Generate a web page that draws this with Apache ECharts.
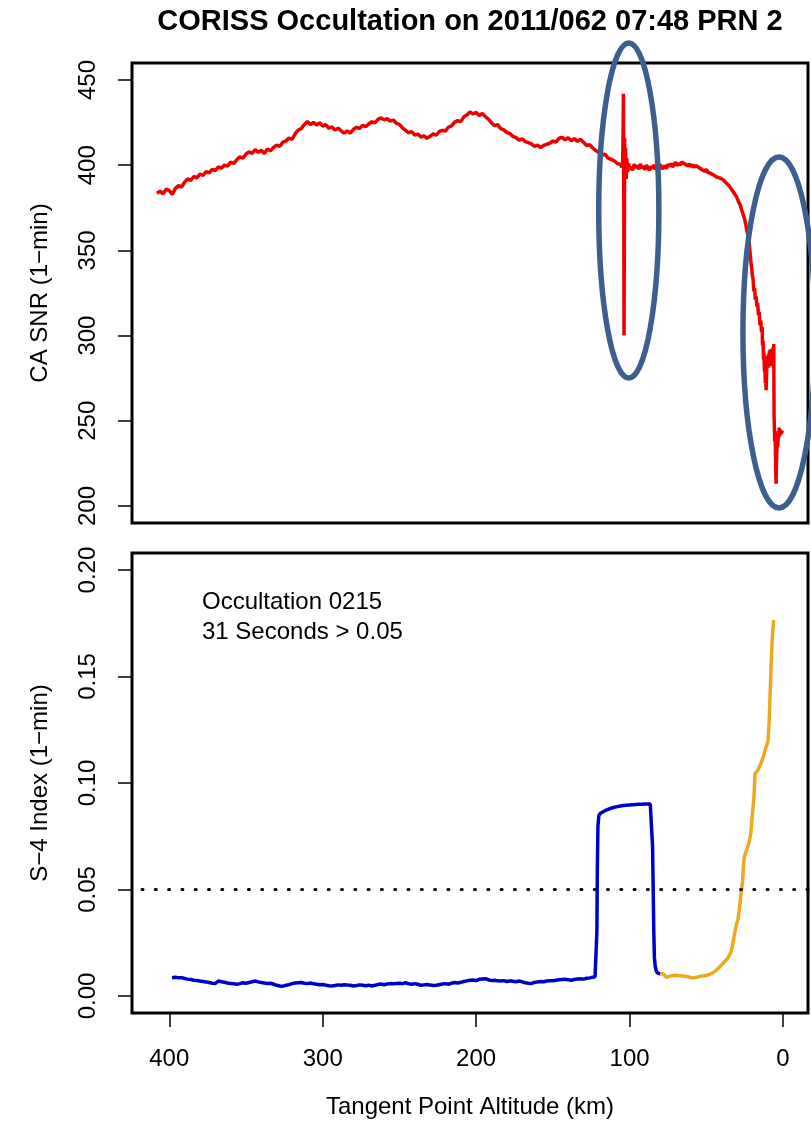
<!DOCTYPE html>
<html>
<head>
<meta charset="utf-8">
<script src="https://cdn.jsdelivr.net/npm/echarts@6/dist/echarts.min.js"></script>
<style>
  html, body { margin: 0; background: #fff; }
  #chart { width: 811px; height: 1131px; }
</style>
</head>
<body>
<div id="chart"></div>
<script>
// CA SNR trace: [tangent point altitude (km), SNR]
const snrTrace = [
  [408,383.5],[406,384.8],[404,383.2],[402,386.0],[400,385.1],[398,382.9],[396,386.4],[394,388.0],
  [392,387.2],[390,390.1],[388,392.0],[386,391.0],[384,393.4],[382,392.6],[380,394.8],[378,394.1],
  [376,396.2],[374,395.5],[372,397.6],[370,396.9],[368,399.0],[366,398.2],[364,400.1],[362,399.5],
  [360,401.8],[358,401.0],[356,403.2],[354,404.9],[352,404.1],[350,406.6],[348,407.8],[346,406.9],
  [344,409.2],[342,407.5],[340,408.8],[338,406.9],[336,409.6],[334,408.4],[332,410.5],[330,411.8],
  [328,411.0],[326,413.5],[324,414.2],[322,416.0],[320,415.1],[318,418.4],[316,420.6],[314,421.5],
  [312,423.8],[310,425.6],[308,423.9],[306,425.1],[304,423.6],[302,424.9],[300,423.0],[298,423.8],
  [296,421.7],[294,422.5],[292,420.6],[290,421.8],[288,420.2],[286,418.8],[284,420.1],[282,418.9],
  [280,421.0],[278,422.3],[276,421.5],[274,423.4],[272,422.6],[270,424.2],[268,425.5],[266,424.8],
  [264,426.9],[262,427.8],[260,426.6],[258,427.4],[256,425.9],[254,426.5],[252,424.6],[250,424.0],
  [248,421.9],[246,420.5],[244,419.0],[242,419.8],[240,417.6],[238,418.3],[236,416.5],[234,417.2],
  [232,415.8],[230,417.0],[228,418.4],[226,417.6],[224,419.8],[222,420.5],[220,420.0],[218,422.4],
  [216,423.1],[214,425.3],[212,426.2],[210,425.6],[208,428.4],[206,429.5],[204,431.2],[202,430.1],
  [200,431.0],[198,429.2],[196,430.4],[194,428.6],[192,427.0],[190,424.9],[188,423.2],[186,423.8],
  [184,421.5],[182,420.8],[180,419.3],[178,418.6],[176,416.9],[174,416.2],[172,414.8],[170,415.5],
  [168,413.9],[166,413.2],[164,412.5],[162,411.0],[160,411.8],[158,410.4],[156,411.6],[154,412.3],
  [152,412.9],[150,414.2],[148,413.5],[146,415.8],[144,416.3],[142,414.9],[140,416.1],[138,414.4],
  [136,415.6],[134,414.0],[132,415.2],[130,413.5],[128,411.6],[126,412.0],[124,410.1],[122,408.6],
  [120,407.4],[118,405.8],[116,406.5],[114,404.2],[112,403.4],[110,402.6],[108,401.0],[106,400.5],
  [105,398.8],[104.5,401.5],[104.2,420],[104,442],[103.8,395],[103.6,300],[103.4,360],[103.2,416],
  [103,395],[102.6,410],[102.2,392],[101.8,404],[101.2,396],[100.6,401],[100,397.5],
  [99,399.2],[98,397.0],[97,400.6],[96,398.4],[95,399.9],[94,397.6],[93,400.8],[92,398.2],
  [91,399.5],[90,397.4],[89,400.1],[88,398.6],[87,396.9],[86,399.4],[85,398.0],[84,400.2],
  [83,397.5],[82,399.0],[81,398.1],[80,400.3],[79,397.8],[78,398.6],[77,399.8],[76,398.0],
  [75,400.5],[74,399.2],[73,401.0],[72,398.9],[71,400.4],[70,401.8],[69,399.6],[68,401.2],
  [67,400.0],[66,401.9],[65,402.3],[64,400.7],[63,401.6],[62,399.5],[61,400.8],[60,399.2],
  [59,400.4],[58,398.6],[57,399.9],[56,400.6],[55,398.8],[54,399.4],[53,397.5],[52,398.2],
  [51,396.4],[50,397.6],[49,395.8],[48,396.9],[47,395.2],[46,396.0],[45,394.1],[44,394.8],
  [43,393.0],[42,393.9],[41,392.4],[40,393.1],[39,391.5],[38,392.0],[37,389.6],[36,390.2],
  [35,387.8],[34,387.0],[33,385.2],[32,384.6],[31,382.5],[30,381.0],[29,378.6],[28,376.9],
  [27,374.0],[26,371.2],[25,368.4],[24,364.0],[23,359.5],[22,354.8],[21.5,349],[21,344],
  [20.5,340],[20,336],[19.5,333],[19,326],[18.5,328],[18,321],[17.5,323],[17,317],
  [16.5,319],[16,312],[15.5,314],[15,306],[14.5,309],[14,302],[13.6,305],[13.3,294],
  [13,297],[12.7,286],[12.4,290],[12.1,279],[11.8,284],[11.5,272],[11.2,277],[11,268],
  [10.7,278],[10.4,283],[10.1,288],[9.8,281],[9.5,289],[9.2,284],[8.9,291],[8.6,286],
  [8.3,292],[8.0,284],[7.7,289],[7.4,282],[7.1,290],[6.8,286],[6.5,293],[6.2,288],
  [6.0,295],[5.9,270],[5.8,252],[5.6,246],[5.4,238],[5.1,244],[4.9,230],[4.7,220],
  [4.5,213],[4.3,224],[4.0,232],[3.7,239],[3.4,235],[3.1,242],[2.8,240],[2.5,246],
  [2.2,241],[1.9,245],[1.6,242],[1.3,244],[1.0,242.5],[0.7,244],[0.4,243]
];

// S-4 index, below threshold part (blue)
const s4Blue = [
  [398.2,0.0086],[396,0.0088],[394,0.0085],[392,0.0086],[390,0.0082],[388,0.0079],[386,0.0077],
  [384,0.0074],[382,0.0073],[380,0.0070],[378,0.0068],[376,0.0066],[374,0.0063],[372,0.0060],
  [370,0.0059],[368,0.0070],[366,0.0067],[364,0.0064],[362,0.0061],[360,0.0058],[358,0.0057],
  [356,0.0055],[354,0.0058],[352,0.0062],[350,0.0060],[348,0.0063],[346,0.0067],[344,0.0070],
  [342,0.0066],[340,0.0063],[338,0.0061],[336,0.0059],[334,0.0060],[332,0.0055],[330,0.0050],
  [328,0.0047],[326,0.0046],[324,0.0050],[322,0.0053],[320,0.0058],[318,0.0061],[316,0.0062],
  [314,0.0063],[312,0.0060],[310,0.0058],[308,0.0061],[306,0.0057],[304,0.0055],[302,0.0053],
  [300,0.0054],[298,0.0051],[296,0.0048],[294,0.0047],[292,0.0049],[290,0.0052],[288,0.0050],
  [286,0.0053],[284,0.0051],[282,0.0050],[280,0.0047],[278,0.0049],[276,0.0052],[274,0.0050],
  [272,0.0048],[270,0.0051],[268,0.0047],[266,0.0050],[264,0.0054],[262,0.0056],[260,0.0053],
  [258,0.0056],[256,0.0058],[254,0.0057],[252,0.0059],[250,0.0060],[248,0.0058],[246,0.0062],
  [244,0.0057],[242,0.0055],[240,0.0058],[238,0.0055],[236,0.0050],[234,0.0052],[232,0.0054],
  [230,0.0051],[228,0.0049],[226,0.0050],[224,0.0053],[222,0.0056],[220,0.0058],[218,0.0055],
  [216,0.0060],[214,0.0063],[212,0.0061],[210,0.0064],[208,0.0068],[206,0.0071],[204,0.0074],
  [202,0.0075],[200,0.0072],[198,0.0078],[196,0.0080],[194,0.0081],[192,0.0076],[190,0.0072],
  [188,0.0074],[186,0.0071],[184,0.0070],[182,0.0072],[180,0.0068],[178,0.0071],[176,0.0069],
  [174,0.0067],[172,0.0070],[170,0.0066],[168,0.0062],[166,0.0060],[164,0.0059],[162,0.0063],
  [160,0.0066],[158,0.0068],[156,0.0067],[154,0.0070],[152,0.0072],[150,0.0071],[148,0.0074],
  [146,0.0076],[144,0.0077],[142,0.0078],[140,0.0076],[138,0.0074],[136,0.0077],[134,0.0080],
  [132,0.0081],[130,0.0079],[128,0.0083],[126,0.0085],[124,0.0088],[122.5,0.0090],[121.8,0.0092],
  [121.3,0.030],[121.0,0.060],[120.6,0.080],[120.0,0.0848],[119,0.0858],[118,0.0864],[116,0.0870],
  [114,0.0876],[112,0.0882],[110,0.0886],[108,0.0889],[106,0.0892],[104,0.0894],[102,0.0896],
  [100,0.0897],[98,0.0898],[96,0.0899],[94,0.0900],[92,0.0900],[90,0.0901],[88,0.0901],
  [86.5,0.0901],[85.5,0.0898],[85.0,0.070],[84.6,0.050],[84.2,0.030],[83.8,0.018],[83.3,0.0140],
  [82.6,0.0118],[81.8,0.0108],[81.0,0.0104],[80.0,0.0103]
];

// S-4 index, lower altitudes (orange)
const s4Orange = [
  [80.0,0.0103],[79,0.0108],[78,0.0104],[77,0.0095],[76,0.0088],[75,0.0086],[74,0.0092],
  [73,0.0097],[72,0.0096],[71,0.0098],[70,0.0097],[69,0.0094],[68,0.0095],[67,0.0093],
  [66,0.0095],[65,0.0092],[64,0.0093],[63,0.0094],[62,0.0090],[61,0.0088],[60,0.0086],
  [59,0.0084],[58,0.0086],[57,0.0089],[56,0.0088],[55,0.0090],[54,0.0092],[53,0.0091],
  [52,0.0094],[51,0.0091],[50,0.0096],[49,0.0099],[48,0.0101],[47,0.0104],[46,0.0108],
  [45,0.0112],[44,0.0118],[43,0.0124],[42,0.0131],[41,0.0138],[40,0.0146],[39,0.0150],
  [38,0.0162],[37,0.0170],[36,0.0178],[35,0.0190],[34,0.0205],[33,0.0232],[32.2,0.0266],
  [31.5,0.0295],[30.8,0.0320],[30,0.0345],[29.3,0.0360],[28.5,0.0405],[27.8,0.0453],
  [27,0.0500],[26.3,0.0540],[25.8,0.0610],[25.2,0.0654],[24,0.0680],[23,0.0700],[22,0.0725],
  [21,0.0765],[20.2,0.0830],[19.5,0.0890],[19,0.0930],[18.5,0.1000],[18.2,0.1045],[17.5,0.1052],
  [16.5,0.1058],[15.5,0.1065],[14.5,0.1090],[13.5,0.1110],[12.5,0.1130],[11.5,0.1160],
  [10.5,0.1180],[9.8,0.1195],[9.3,0.1250],[8.9,0.1310],[8.5,0.1400],[8.1,0.1480],[7.8,0.1545],
  [7.3,0.1630],[6.8,0.1700],[6.1,0.1765]
];

const altTicks = [0, 100, 200, 300, 400];
const snrTicks = [200, 250, 300, 350, 400, 450];
const s4Ticks = [0, 0.05, 0.10, 0.15, 0.20];
const s4Threshold = 0.05;

// hand-drawn rings: [altitude, SNR, half width (km), half height (SNR)]
const rings = [
  [100.5, 373.4, 19.6, 98.3],
  [2.6, 301.8, 23.5, 103]
];

const FONT = 'Liberation Sans, Arial, Helvetica, sans-serif';

const chart = echarts.init(document.getElementById('chart'));

const tickStyle = { show: true, length: 14, inside: false, lineStyle: { color: '#000', width: 1.5 } };
const labelStyle = { color: '#000', fontSize: 24, fontFamily: FONT };
const noLine = { show: false, onZero: false };

const xBase = {
  type: 'value',
  min: -16.3,
  max: 424.3,
  inverse: true,
  position: 'bottom',
  splitLine: { show: false },
  axisLine: noLine
};

const option = {
  animation: false,
  backgroundColor: '#fff',
  grid: [
    { left: 132, top: 63, width: 676, height: 460, show: true, borderColor: '#000', borderWidth: 3, backgroundColor: 'transparent' },
    { left: 132, top: 553, width: 676, height: 460, show: true, borderColor: '#000', borderWidth: 3, backgroundColor: 'transparent' }
  ],
  xAxis: [
    Object.assign({}, xBase, { gridIndex: 0, axisTick: { show: false }, axisLabel: { show: false } }),
    Object.assign({}, xBase, {
      gridIndex: 1,
      axisTick: Object.assign({}, tickStyle, { customValues: altTicks }),
      axisLabel: Object.assign({}, labelStyle, { customValues: altTicks, margin: 34 }),
      name: 'Tangent Point Altitude (km)',
      nameLocation: 'middle',
      nameGap: 82,
      nameTextStyle: labelStyle
    })
  ],
  yAxis: [
    {
      type: 'value', gridIndex: 0, min: 190, max: 460, position: 'left',
      splitLine: { show: false }, axisLine: noLine,
      axisTick: Object.assign({}, tickStyle, { customValues: snrTicks }),
      axisLabel: Object.assign({}, labelStyle, { customValues: snrTicks, rotate: 90, margin: 32 }),
      name: 'CA SNR (1\u2212min)', nameLocation: 'middle', nameRotate: 90, nameGap: 80,
      nameTextStyle: labelStyle
    },
    {
      type: 'value', gridIndex: 1, min: -0.008, max: 0.208, position: 'left',
      splitLine: { show: false }, axisLine: noLine,
      axisTick: Object.assign({}, tickStyle, { customValues: s4Ticks }),
      axisLabel: Object.assign({}, labelStyle, {
        customValues: s4Ticks, rotate: 90, margin: 32,
        formatter: v => v.toFixed(2)
      }),
      name: 'S\u22124 Index (1\u2212min)', nameLocation: 'middle', nameRotate: 90, nameGap: 80,
      nameTextStyle: labelStyle
    }
  ],
  series: [
    {
      name: 'CA SNR', type: 'line', xAxisIndex: 0, yAxisIndex: 0,
      data: snrTrace, showSymbol: false, symbol: 'none',
      lineStyle: { color: '#ee0000', width: 3.5 }, z: 3
    },
    {
      name: 'S4 low', type: 'line', xAxisIndex: 1, yAxisIndex: 1,
      data: s4Blue, showSymbol: false, symbol: 'none',
      lineStyle: { color: '#0000cc', width: 3.5 }, z: 3
    },
    {
      name: 'S4 high', type: 'line', xAxisIndex: 1, yAxisIndex: 1,
      data: s4Orange, showSymbol: false, symbol: 'none',
      lineStyle: { color: '#f0a81e', width: 3.5 }, z: 3,
      markLine: {
        silent: true, symbol: ['none', 'none'], label: { show: false },
        lineStyle: { color: '#000', width: 3, type: [1, 12.3], cap: 'round' },
        data: [{ yAxis: s4Threshold }]
      }
    }
  ]
};

chart.setOption(option);

const ringShapes = rings.map(([alt, snr, dAlt, dSnr]) => {
  const c = chart.convertToPixel({ xAxisIndex: 0, yAxisIndex: 0 }, [alt, snr]);
  const e = chart.convertToPixel({ xAxisIndex: 0, yAxisIndex: 0 }, [alt - dAlt, snr + dSnr]);
  return {
    type: 'ellipse',
    shape: { cx: c[0], cy: c[1], rx: Math.abs(e[0] - c[0]), ry: Math.abs(c[1] - e[1]) },
    style: { fill: 'none', stroke: '#3d5f8e', lineWidth: 5.5 },
    z: 100
  };
});

chart.setOption({
  graphic: [
    {
      type: 'text', x: 470, y: 22, z: 50,
      style: {
        text: 'CORISS Occultation on 2011/062 07:48 PRN 2',
        font: 'bold 29px ' + FONT, fill: '#000',
        align: 'center', verticalAlign: 'middle'
      }
    },
    {
      type: 'text', x: 202, y: 587, z: 50,
      style: {
        text: 'Occultation 0215\n31 Seconds > 0.05',
        font: '24px ' + FONT, fill: '#000', lineHeight: 30,
        align: 'left', verticalAlign: 'top'
      }
    }
  ].concat(ringShapes)
});

window.addEventListener('resize', () => chart.resize());
</script>
</body>
</html>
